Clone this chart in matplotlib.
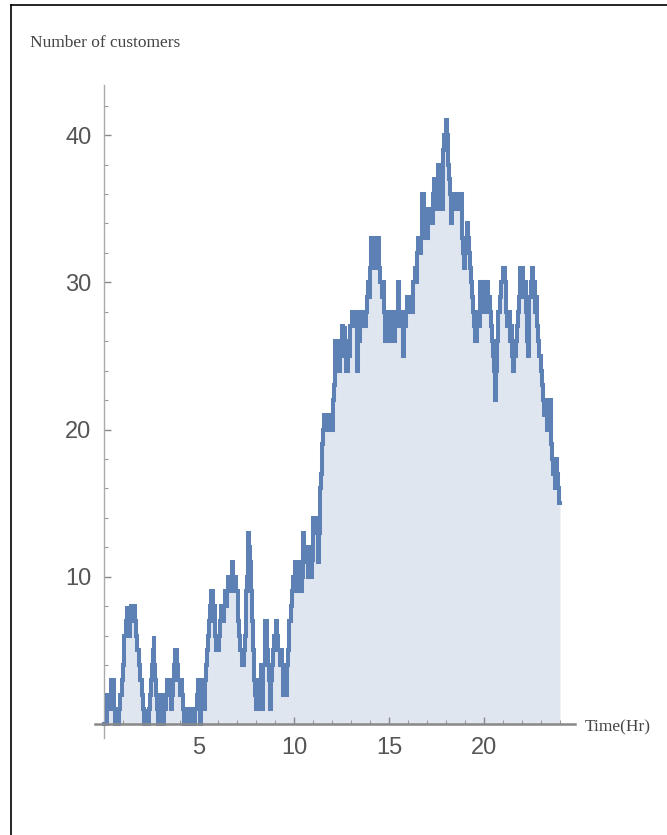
import matplotlib
matplotlib.use("Agg")
import matplotlib.pyplot as plt
from matplotlib.ticker import MultipleLocator
from matplotlib.lines import Line2D

times = [0.00, 0.14, 0.18, 0.26, 0.32, 0.36, 0.44, 0.48, 0.54, 0.60, 0.66, 0.72, 0.79, 0.85, 0.93, 0.98,
         1.03, 1.08, 1.15, 1.19, 1.24, 1.30, 1.37, 1.45, 1.52, 1.58, 1.63, 1.68, 1.75, 1.83, 1.89, 1.98,
         2.03, 2.09, 2.14, 2.18, 2.35, 2.42, 2.48, 2.53, 2.58, 2.62, 2.66, 2.70, 2.74, 2.80, 2.85, 2.90,
         2.95, 3.03, 3.10, 3.17, 3.25, 3.30, 3.36, 3.42, 3.48, 3.54, 3.60, 3.65, 3.70, 3.74, 3.84, 3.91,
         3.98, 4.04, 4.09, 4.15, 4.22, 4.30, 4.38, 4.46, 4.53, 4.62, 4.70, 4.79, 4.92, 4.96, 5.00, 5.05,
         5.12, 5.18, 5.24, 5.30, 5.36, 5.42, 5.49, 5.55, 5.60, 5.64, 5.72, 5.78, 5.84, 5.90, 5.96, 6.02,
         6.08, 6.11, 6.18, 6.25, 6.32, 6.37, 6.45, 6.50, 6.54, 6.62, 6.68, 6.72, 6.80, 6.86, 6.92, 6.97,
         7.04, 7.07, 7.12, 7.18, 7.25, 7.35, 7.42, 7.46, 7.50, 7.53, 7.56, 7.60, 7.64, 7.68, 7.72, 7.76,
         7.80, 7.84, 7.88, 7.94, 8.00, 8.04, 8.08, 8.12, 8.18, 8.24, 8.30, 8.34, 8.39, 8.45, 8.50, 8.56,
         8.62, 8.68, 8.72, 8.78, 8.84, 8.91, 8.96, 9.02, 9.06, 9.12, 9.18, 9.24, 9.32, 9.38, 9.44, 9.52,
         9.58, 9.62, 9.70, 9.76, 9.82, 9.88, 9.96, 10.02, 10.05, 10.12, 10.18, 10.23, 10.30, 10.38, 10.44, 10.49,
         10.55, 10.60, 10.66, 10.72, 10.78, 10.84, 10.93, 11.00, 11.02, 11.12, 11.20, 11.28, 11.34, 11.37, 11.42, 11.46,
         11.50, 11.54, 11.60, 11.66, 11.74, 11.82, 11.90, 12.00, 12.07, 12.12, 12.14, 12.16, 12.20, 12.25, 12.32, 12.38,
         12.42, 12.50, 12.55, 12.60, 12.66, 12.70, 12.76, 12.82, 12.86, 12.92, 12.97, 13.03, 13.10, 13.18, 13.25, 13.30,
         13.34, 13.39, 13.46, 13.56, 13.62, 13.70, 13.78, 13.82, 13.90, 13.96, 14.00, 14.05, 14.10, 14.16, 14.22, 14.26,
         14.34, 14.40, 14.44, 14.50, 14.55, 14.61, 14.67, 14.72, 14.79, 14.85, 14.90, 14.96, 15.05, 15.10, 15.14, 15.20,
         15.26, 15.32, 15.40, 15.45, 15.49, 15.55, 15.62, 15.68, 15.72, 15.75, 15.80, 15.89, 15.95, 16.02, 16.10, 16.18,
         16.24, 16.28, 16.36, 16.42, 16.46, 16.52, 16.60, 16.66, 16.72, 16.76, 16.82, 16.86, 16.92, 16.98, 17.04, 17.10,
         17.16, 17.24, 17.33, 17.38, 17.44, 17.50, 17.56, 17.60, 17.66, 17.72, 17.77, 17.82, 17.86, 17.92, 17.98, 18.02,
         18.08, 18.12, 18.16, 18.21, 18.26, 18.32, 18.36, 18.42, 18.48, 18.54, 18.60, 18.66, 18.74, 18.82, 18.88, 18.94,
         19.00, 19.06, 19.09, 19.16, 19.22, 19.26, 19.32, 19.38, 19.44, 19.50, 19.55, 19.61, 19.66, 19.72, 19.79, 19.86,
         19.92, 19.96, 20.04, 20.10, 20.16, 20.22, 20.28, 20.32, 20.38, 20.44, 20.49, 20.54, 20.58, 20.64, 20.70, 20.76,
         20.84, 20.92, 21.02, 21.08, 21.16, 21.22, 21.30, 21.37, 21.44, 21.50, 21.54, 21.60, 21.66, 21.72, 21.78, 21.84,
         21.89, 21.96, 22.02, 22.07, 22.14, 22.20, 22.25, 22.30, 22.36, 22.39, 22.45, 22.51, 22.58, 22.64, 22.68, 22.75,
         22.80, 22.86, 22.92, 22.98, 23.05, 23.12, 23.18, 23.25, 23.30, 23.36, 23.42, 23.47, 23.52, 23.58, 23.65, 23.72,
         23.78, 23.82, 23.88, 23.94, 24.00]

customers = [0, 1, 2, 1, 2, 3, 2, 3, 1, 0, 1, 0, 1, 2, 3, 4,
             5, 6, 7, 8, 7, 6, 7, 8, 7, 8, 7, 6, 5, 4, 3, 2,
             1, 0, 1, 0, 1, 2, 3, 4, 5, 6, 4, 3, 2, 1, 0, 1,
             2, 1, 0, 1, 2, 3, 2, 3, 2, 1, 2, 3, 4, 5, 4, 3,
             2, 3, 2, 1, 0, 1, 0, 1, 0, 1, 0, 1, 2, 3, 1, 0,
             2, 3, 1, 3, 4, 5, 6, 7, 8, 9, 7, 8, 6, 5, 6, 5,
             6, 7, 8, 7, 8, 9, 8, 9, 10, 9, 10, 11, 10, 9, 10, 9,
             8, 7, 6, 5, 4, 5, 6, 8, 9, 10, 11, 13, 12, 11, 10, 9,
             7, 5, 3, 2, 1, 2, 3, 1, 3, 4, 2, 1, 4, 6, 7, 5,
             4, 3, 1, 3, 4, 5, 6, 5, 7, 6, 5, 4, 5, 4, 2, 3,
             2, 4, 5, 7, 8, 9, 10, 9, 11, 10, 9, 10, 11, 9, 10, 13,
             12, 11, 12, 10, 11, 10, 12, 11, 14, 13, 14, 11, 13, 16, 17, 18,
             19, 20, 21, 20, 21, 20, 21, 20, 22, 23, 24, 26, 25, 24, 25, 24,
             26, 25, 27, 26, 27, 25, 24, 25, 26, 25, 27, 28, 27, 28, 27, 26,
             24, 26, 28, 27, 28, 27, 28, 29, 30, 29, 31, 33, 32, 33, 32, 31,
             32, 31, 33, 31, 30, 29, 30, 28, 26, 27, 26, 28, 27, 28, 26, 27,
             26, 28, 27, 28, 30, 28, 27, 28, 26, 25, 27, 28, 29, 28, 29, 28,
             29, 30, 31, 30, 32, 33, 32, 33, 35, 36, 35, 33, 34, 33, 35, 34,
             35, 34, 36, 37, 36, 35, 36, 38, 37, 36, 35, 37, 39, 40, 39, 41,
             40, 38, 37, 36, 34, 35, 36, 35, 36, 35, 36, 35, 36, 33, 32, 31,
             33, 32, 34, 33, 32, 31, 30, 29, 28, 27, 26, 27, 28, 27, 30, 29,
             30, 28, 30, 29, 30, 28, 29, 28, 27, 26, 25, 24, 22, 24, 26, 28,
             29, 30, 31, 30, 28, 27, 28, 26, 27, 25, 24, 25, 26, 27, 28, 29,
             31, 30, 31, 29, 30, 28, 26, 25, 27, 29, 30, 31, 29, 30, 28, 29,
             27, 26, 25, 24, 23, 22, 21, 22, 20, 21, 20, 22, 19, 18, 17, 16,
             18, 17, 16, 15, 15]

x_ticks = [5, 10, 15, 20]
y_ticks = [10, 20, 30, 40]

W, H = 667, 835
fig = plt.figure(figsize=(W / 100, H / 100), dpi=100)
fig.patch.set_facecolor("white")

ax = fig.add_axes([95 / W, 1 - 738 / H, (575 - 95) / W, (738 - 85) / H])
ax.set_xlim(-0.47, 24.79)
ax.set_ylim(-0.95, 43.4)

line_color = "#5E81B5"
fill_color = "#E0E6F0"

ax.fill_between(times, customers, 0, step="post", color=fill_color, linewidth=0, zorder=1)
ax.step(times, customers, where="post", color=line_color, linewidth=2.9,
        solid_joinstyle="miter", zorder=3)

for s in ["top", "right"]:
    ax.spines[s].set_visible(False)
ax.spines["left"].set_position(("data", 0))
ax.spines["bottom"].set_position(("data", 0))
ax.spines["left"].set_color("#aaaaaa")
ax.spines["left"].set_linewidth(1.0)
ax.spines["bottom"].set_color("#888888")
ax.spines["bottom"].set_linewidth(1.8)
ax.spines["bottom"].set_zorder(4)
ax.set_facecolor("none")

ax.set_xticks(x_ticks)
ax.set_yticks(y_ticks)
ax.xaxis.set_minor_locator(MultipleLocator(1))
ax.yaxis.set_minor_locator(MultipleLocator(2))
ax.tick_params(axis="both", which="major", direction="in", length=5, width=1.0,
               color="#888888", labelcolor="#555555", labelsize=17)
ax.tick_params(axis="both", which="minor", direction="in", length=3, width=0.8,
               color="#999999")
ax.tick_params(axis="x", pad=9)
ax.tick_params(axis="y", pad=9)
for lab in ax.get_xticklabels() + ax.get_yticklabels():
    lab.set_family(["Liberation Sans Narrow", "Liberation Sans", "DejaVu Sans"])

fig.text(30 / W, 1 - 43 / H, "Number of customers", family="Liberation Serif",
         fontsize=12.5, color="#444444", ha="left", va="center")
fig.text(585 / W, 1 - 727 / H, "Time(Hr)", family="Liberation Serif",
         fontsize=12.5, color="#444444", ha="left", va="center")

# outer frame lines (top and left)
fig.add_artist(Line2D([11 / W, 1.0], [1 - 5 / H, 1 - 5 / H], transform=fig.transFigure,
                      color="black", linewidth=1.2))
fig.add_artist(Line2D([11 / W, 11 / W], [0, 1 - 5 / H], transform=fig.transFigure,
                      color="black", linewidth=1.2))

fig.savefig("out.png", dpi=100)
